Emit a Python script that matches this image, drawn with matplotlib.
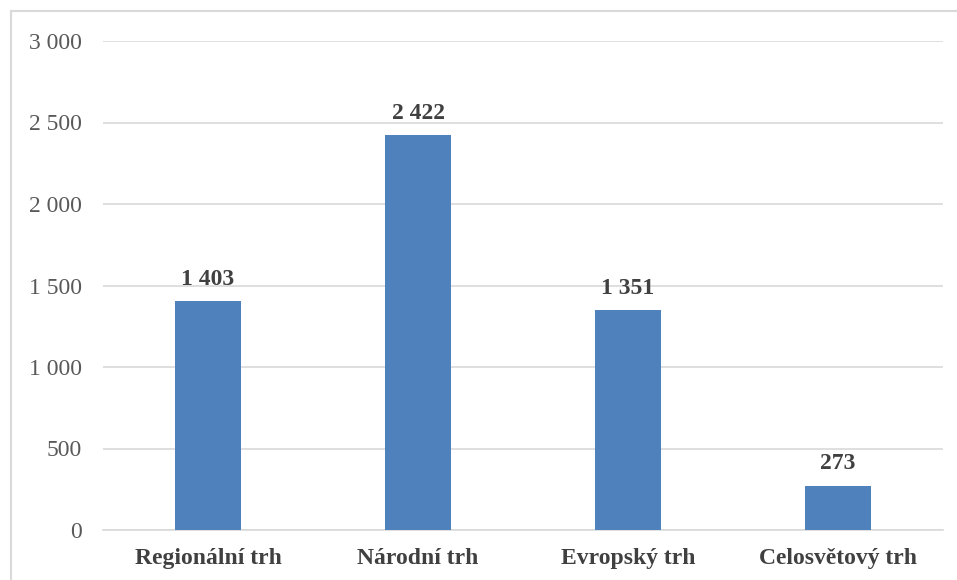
import matplotlib.pyplot as plt
from matplotlib.patches import Rectangle

categories = ['Regionální trh', 'Národní trh', 'Evropský trh', 'Celosvětový trh']
values = [1403, 2422, 1351, 273]
yticks = [0, 500, 1000, 1500, 2000, 2500, 3000]

plt.rcParams['font.family'] = ['Liberation Serif', 'DejaVu Serif']


def fmt(v):
    return f"{v:,}".replace(",", " ")


fig = plt.figure(figsize=(9.57, 5.8), dpi=100)
ax = fig.add_axes([103 / 957, 1 - 530 / 580, 840 / 957, 489 / 580])

# light frame around the chart area
fig.patches.append(Rectangle((11 / 957, -0.1), 1.1, 1 - 11 / 580 + 0.1,
                             transform=fig.transFigure, fill=False,
                             edgecolor='#d9d9d9', linewidth=1.5))

x = range(len(categories))
bars = ax.bar(x, values, width=0.315, color='#4F81BD', zorder=3)

for b, v in zip(bars, values):
    ax.annotate(fmt(v), (b.get_x() + b.get_width() / 2, v),
                xytext=(0, 8), textcoords='offset points',
                ha='center', va='bottom', fontsize=17, fontweight='bold',
                color='#404040')

ax.set_xlim(-0.5, len(categories) - 0.5)
ax.set_ylim(0, 3000)
ax.set_yticks(yticks)
ax.set_yticklabels([fmt(t) for t in yticks], fontsize=17, color='#595959')
ax.set_xticks(list(x))
ax.set_xticklabels(categories, fontsize=17, fontweight='bold', color='#404040')
ax.tick_params(axis='both', length=0)
ax.tick_params(axis='y', pad=15)
ax.tick_params(axis='x', pad=13)

ax.grid(axis='y', color='#d9d9d9', linewidth=1.2, zorder=0)
for s in ['top', 'right', 'left']:
    ax.spines[s].set_visible(False)
ax.spines['bottom'].set_color('#d9d9d9')
ax.spines['bottom'].set_linewidth(1.2)

fig.savefig('out.png', dpi=100)
